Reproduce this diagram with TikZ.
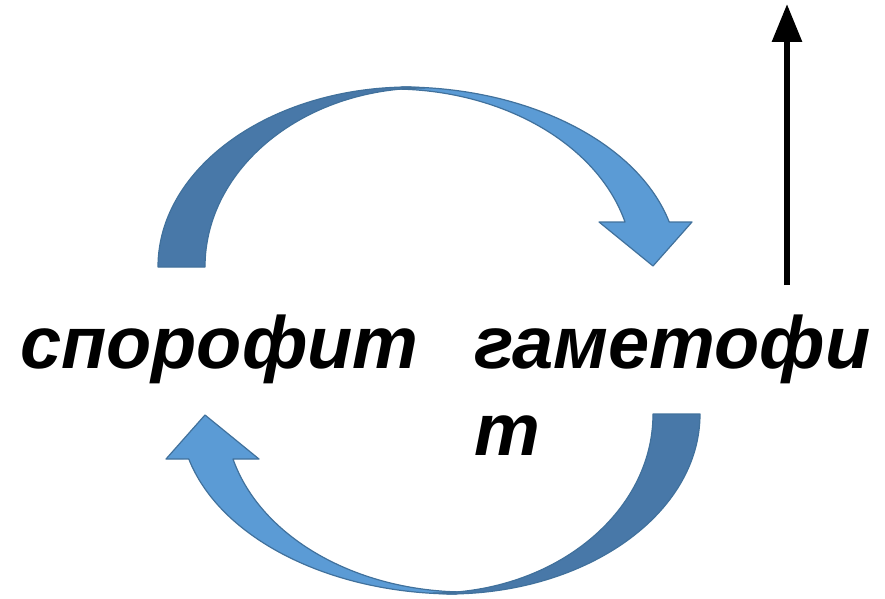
\documentclass[tikz,border=0pt]{standalone}
\usepackage{fontspec}
\setmainfont{Liberation Sans}
\usetikzlibrary{arrows.meta}
\definecolor{arrlight}{HTML}{5B9BD5}
\definecolor{arrdark}{HTML}{4878A8}
\definecolor{arredge}{HTML}{41719C}
\tikzset{
  lightpart/.style={fill=arrlight, draw=arredge, line width=1.2pt, line join=round},
  darkpart/.style={fill=arrdark, draw=arredge, line width=1.2pt, line join=round},
  word/.style={anchor=base west, inner sep=0pt, font=\fontsize{74}{85}\selectfont\bfseries\itshape},
  curvarrow/.pic={
    \path[lightpart] (402,511) arc[start angle=90, end angle=14.4775, x radius=276, y radius=180]
      -- (692,376) -- (653,332) -- (599,376) -- (625,376)
      arc[start angle=14.645, end angle=90, x radius=241, y radius=178] -- cycle;
    \path[darkpart] (158,331) arc[start angle=180, end angle=90, x radius=252, y radius=180]
      -- (425,510) arc[start angle=90, end angle=180, x radius=220, y radius=179] -- cycle;
  }
}
\begin{document}
\begin{tikzpicture}[x=1pt, y=1pt]
\useasboundingbox (0,0) rectangle (885,598);
\pic at (0,0) {curvarrow};
\pic[rotate=180] at (858,515) {curvarrow};
\node[word] (spor) at (20,230) {спорофит};
\node[word] (gam1) at (474,230) {гаметофи};
\node[word] (gam2) at (474,143) {т};
\coordinate (vbot) at (787,313);
\coordinate (vtop) at (787,594);
\draw[line width=6pt, -{Triangle[width=29pt,length=38pt]}] (vbot) -- (vtop);
\end{tikzpicture}
\end{document}
